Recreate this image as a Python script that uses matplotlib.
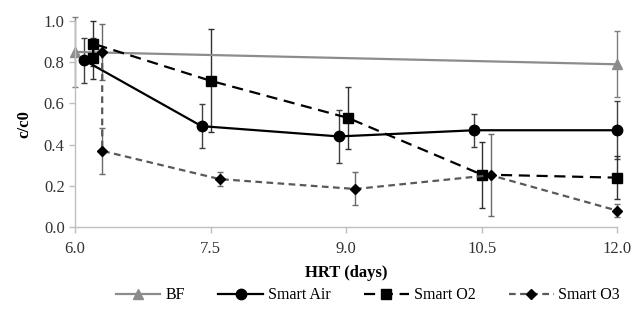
import matplotlib
matplotlib.use("Agg")
import matplotlib.pyplot as plt

plt.rcParams['font.family'] = ['Liberation Serif', 'DejaVu Serif']

# Data
bf_x = [6.0, 12.0]
bf_y = [0.85, 0.79]
bf_err = [0.17, 0.16]

air_x = [6.1, 7.4, 8.92, 10.42, 12.0]
air_y = [0.81, 0.49, 0.44, 0.47, 0.47]
air_err = [0.11, 0.105, 0.13, 0.08, 0.14]

o2_x = [6.2, 6.2, 7.5, 9.02, 10.5, 12.0]
o2_y = [0.82, 0.89, 0.71, 0.53, 0.255, 0.24]
o2_err = [0.10, 0.11, 0.25, 0.15, 0.16, 0.105]

o3_x = [6.3, 6.3, 7.6, 9.1, 10.6, 12.0]
o3_y = [0.85, 0.37, 0.233, 0.185, 0.252, 0.08]
o3_err = [0.135, 0.11, 0.032, 0.08, 0.2, 0.03]

xticks = [6.0, 7.5, 9.0, 10.5, 12.0]
yticks = [0.0, 0.2, 0.4, 0.6, 0.8, 1.0]

fig = plt.figure(figsize=(6.31, 3.09), dpi=100)
ax = fig.add_axes([0.119, 0.265, 0.859, 0.667])

ekw = dict(capsize=2.5, elinewidth=1.0, capthick=1.0)
for x, y, e, c in [(bf_x, bf_y, bf_err, '#7f7f7f'), (air_x, air_y, air_err, '#404040'),
                   (o2_x, o2_y, o2_err, '#303030'), (o3_x, o3_y, o3_err, '#6a6a6a')]:
    _, caps, bars = ax.errorbar(x, y, yerr=e, fmt='none', ecolor=c, **ekw)
    for a in list(caps) + list(bars):
        a.set_clip_on(False)

lines = []
lines += ax.plot(bf_x, bf_y, color='#8c8c8c', lw=1.6, marker='^', ms=7.5, mfc='#8c8c8c', mec='#8c8c8c', label='BF')
lines += ax.plot(air_x, air_y, color='black', lw=1.6, marker='o', ms=7.5, label='Smart Air')
lines += ax.plot(o2_x, o2_y, color='black', lw=1.6, ls=(0, (5, 3)), marker='s', ms=7.5, label='Smart O2')
lines += ax.plot(o3_x, o3_y, color='#595959', lw=1.6, ls=(0, (3, 2)), marker='D', ms=5.5, mfc='black', mec='black', label='Smart O3')
for l in lines:
    l.set_clip_on(False)

ax.set_xlim(6.0, 12.0)
ax.set_ylim(0.0, 1.0)
ax.set_xticks(xticks)
ax.set_xticklabels([f"{v:.1f}" for v in xticks])
ax.set_yticks(yticks)
ax.set_yticklabels([f"{v:.1f}" for v in yticks])
for s in ['top', 'right']:
    ax.spines[s].set_visible(False)
for s in ['left', 'bottom']:
    ax.spines[s].set_color('#bfbfbf')
    ax.spines[s].set_linewidth(1.0)
ax.tick_params(axis='both', colors='#bfbfbf', labelcolor='#333333', labelsize=12, length=4, width=1.0)
ax.tick_params(axis='x', pad=6)

ax.set_xlabel('HRT (days)', fontsize=12, fontweight='bold', labelpad=6)
ax.set_ylabel('c/c0', fontsize=12, fontweight='bold', labelpad=8)

fig.legend(handles=lines, loc='center', bbox_to_anchor=(0.583, 0.045), ncol=4, frameon=False,
           fontsize=11.5, handlelength=2.8, columnspacing=2.1, handletextpad=0.3,
           borderpad=0.1)

fig.savefig('out.png', dpi=100)
